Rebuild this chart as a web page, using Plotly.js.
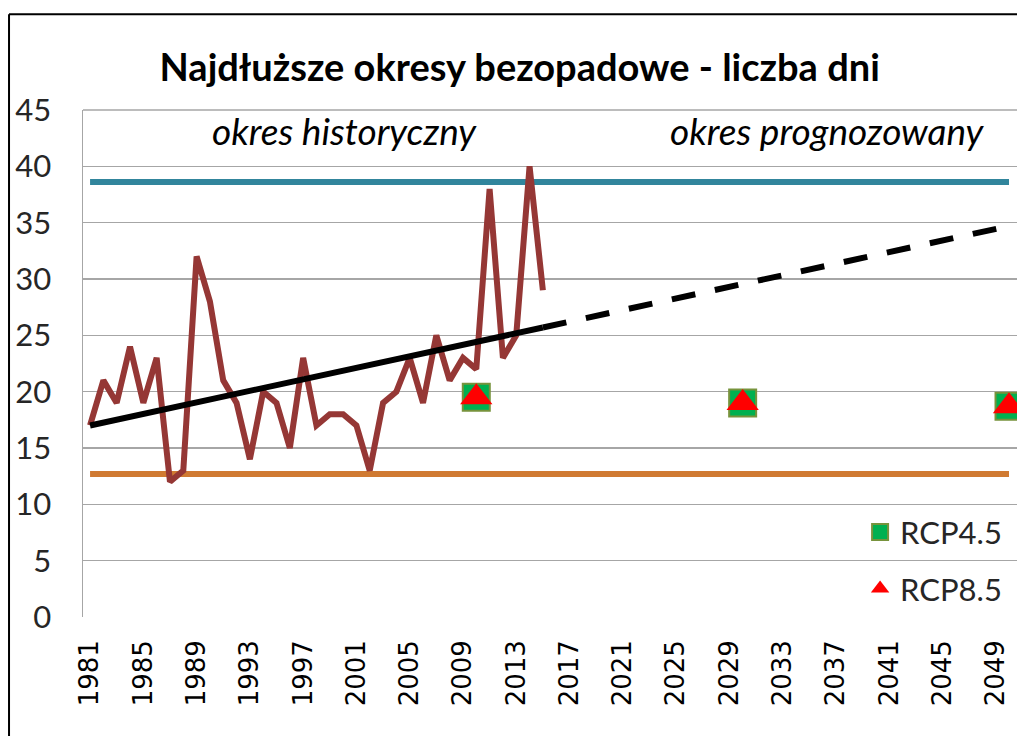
<!DOCTYPE html>
<html>
<head>
<meta charset="utf-8">
<script src="https://cdn.plot.ly/plotly-3.0.1.min.js"></script>
<style>
html,body{margin:0;padding:0;background:#fff;}
#chart{width:1017px;height:736px;}
</style>
</head>
<body>
<div id="chart"></div>
<script>
// ---- data ----
const years = [1981,1982,1983,1984,1985,1986,1987,1988,1989,1990,1991,1992,1993,1994,1995,1996,1997,1998,1999,2000,2001,2002,2003,2004,2005,2006,2007,2008,2009,2010,2011,2012,2013,2014,2015];
const days  = [17,21,19,24,19,23,12,13,32,28,21,19,14,20,19,15,23,17,18,18,17,13,19,20,23,19,25,21,23,22,38,23,25,40,29];
const lineYears = [1981, 2050];
const maxLevel = [38.6, 38.6];
const minLevel = [12.7, 12.7];
const trendYears = [1981, 2015];
const trendVals = [17.0, 25.7];
const forecastYears = [2015, 2050];
const forecastVals = [25.7, 34.7];
const scenarioYears = [2010, 2030, 2050];
const rcp45 = [19.5, 19.0, 18.7];
const rcp85 = [19.5, 19.0, 18.7];
const tickYears = [1981,1985,1989,1993,1997,2001,2005,2009,2013,2017,2021,2025,2029,2033,2037,2041,2045,2049];
const yTicks = [0,5,10,15,20,25,30,35,40,45];

const FONT = 'Lato, "Open Sans", sans-serif';

const traces = [
  {x: lineYears, y: maxLevel, mode: 'lines', line: {color: '#31859C', width: 6}, showlegend: false, hoverinfo: 'skip'},
  {x: lineYears, y: minLevel, mode: 'lines', line: {color: '#D07A32', width: 6}, showlegend: false, hoverinfo: 'skip'},
  {x: years, y: days, mode: 'lines', line: {color: '#953735', width: 6}, showlegend: false},
  {x: trendYears, y: trendVals, mode: 'lines', line: {color: '#000000', width: 6}, showlegend: false},
  {x: forecastYears, y: forecastVals, mode: 'lines', line: {color: '#000000', width: 6, dash: '24px,20px'}, showlegend: false},
  {x: scenarioYears, y: rcp45, mode: 'markers', name: 'RCP4.5', legendgroup: 'a',
   marker: {symbol: 'square', size: 27, color: '#00B050', line: {color: '#77933C', width: 2}}},
  {x: scenarioYears, y: rcp85, mode: 'markers', name: 'RCP8.5', legendgroup: 'b',
   marker: {symbol: 'triangle-up', size: 28, color: '#FF0000', line: {width: 0}}}
];

const layout = {
  width: 1017, height: 736,
  margin: {l: 83, r: 0, t: 110, b: 119, pad: 0},
  paper_bgcolor: '#ffffff', plot_bgcolor: '#ffffff',
  font: {family: FONT, color: '#262626'},
  title: {text: 'Najdłuższe okresy bezopadowe - liczba dni', x: 0.511, xanchor: 'center', y: 0.908, yanchor: 'middle', yref: 'container',
          font: {family: FONT, size: 38, color: '#000000', weight: 'bold'}},
  xaxis: {range: [1980.47, 2050.6], tickmode: 'array', tickvals: tickYears, ticktext: tickYears.map(String),
          tickangle: -90, tickfont: {family: '"DejaVu Sans", sans-serif', size: 26, color: '#000000'},
          showgrid: false, zeroline: false, showline: false, ticks: '', ticklabelstandoff: 17, fixedrange: true},
  yaxis: {range: [0, 45], tickmode: 'array', tickvals: yTicks, ticktext: yTicks.map(String),
          tickfont: {family: FONT, size: 31, color: '#262626'},
          showgrid: true, gridcolor: '#A6A6A6', gridwidth: 1.5, zeroline: false,
          showline: true, linecolor: '#A6A6A6', linewidth: 1.5, ticks: '', ticklabelstandoff: 24, fixedrange: true},
  legend: {x: 0.832, xanchor: 'left', y: 0.22, yanchor: 'top', bgcolor: 'rgba(0,0,0,0)',
           font: {family: FONT, size: 31, color: '#262626'}, traceorder: 'grouped', tracegroupgap: 13, itemwidth: 30},
  annotations: [
    {text: 'okres historyczny', xref: 'paper', yref: 'paper', x: 0.2805, y: 0.9586, xanchor: 'center', yanchor: 'middle', showarrow: false,
     font: {family: FONT, size: 37, color: '#000000', style: 'italic'}},
    {text: 'okres prognozowany', xref: 'paper', yref: 'paper', x: 0.7966, y: 0.9586, xanchor: 'center', yanchor: 'middle', showarrow: false,
     font: {family: FONT, size: 37, color: '#000000', style: 'italic'}}
  ],
  shapes: [
    {type: 'line', xref: 'paper', yref: 'paper', x0: -0.0792, x1: -0.0792, y0: 1.189, y1: -0.3, line: {color: '#000000', width: 2}},
    {type: 'line', xref: 'paper', yref: 'paper', x0: -0.0792, x1: 1.1, y0: 1.189, y1: 1.189, line: {color: '#000000', width: 2}},
    {type: 'line', xref: 'paper', yref: 'paper', x0: 0, x1: 1.05, y0: 1, y1: 1, line: {color: '#A6A6A6', width: 1.5}}
  ]
};

Plotly.newPlot('chart', traces, layout, {displayModeBar: false, staticPlot: true});
</script>
</body>
</html>
